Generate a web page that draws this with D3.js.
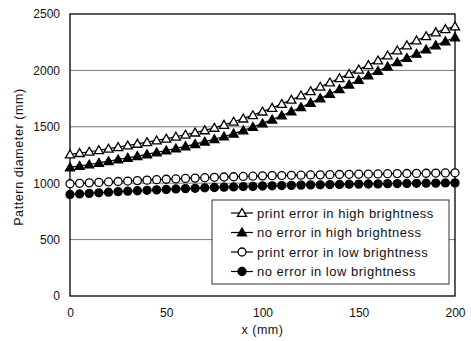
<!DOCTYPE html>
<html><head><meta charset="utf-8">
<script src="https://cdn.jsdelivr.net/npm/d3@7"></script>
<style>body{margin:0;background:#fff;}svg{display:block;font-family:"Liberation Sans",Arial,sans-serif;}</style>
</head><body><svg id="c" width="471" height="341"></svg>
<script>
const xValues = d3.range(0, 201, 5);
const printHigh = [1255,1267,1279,1292,1306,1320,1334,1349,1364,1379,1395,1412,1430,1449,1469,1491,1517,1545,1573,1603,1635,1668,1703,1740,1778,1816,1855,1893,1931,1969,2007,2047,2088,2132,2177,2222,2265,2303,2337,2366,2390];
const noErrHigh = [1140,1153,1166,1180,1195,1210,1225,1240,1256,1273,1290,1308,1327,1347,1368,1390,1414,1440,1468,1498,1530,1564,1600,1636,1673,1712,1752,1792,1833,1874,1915,1955,1995,2034,2072,2110,2148,2185,2222,2258,2293];
const printLow = [995,999,1003,1007,1011,1015,1019,1023,1027,1031,1035,1038,1042,1045,1049,1052,1055,1057,1060,1062,1065,1067,1068,1070,1071,1073,1074,1076,1077,1079,1080,1081,1082,1084,1085,1086,1087,1088,1090,1091,1092];
const noErrLow = [900,905,910,915,920,925,929,933,937,941,945,949,952,955,959,962,965,967,970,972,975,977,979,981,983,985,986,988,989,991,992,993,994,996,997,998,999,1000,1001,1002,1003];
const seriesNames = ["print error in high brightness","no error in high brightness","print error in low brightness","no error in low brightness"];
const yTicks = [0,500,1000,1500,2000,2500];
const xTicks = [0,50,100,150,200];

const svg = d3.select("#c");
const L=70,R=455,T=14,B=296;
const x = d3.scaleLinear().domain([0,200]).range([L,R]);
const y = d3.scaleLinear().domain([0,2500]).range([B,T]);

// gridlines
svg.append("g").selectAll("line").data(yTicks.filter(v=>v>0&&v<2500)).join("line")
  .attr("x1",L).attr("x2",R).attr("y1",d=>y(d)).attr("y2",d=>y(d))
  .attr("stroke","#777").attr("stroke-width",1);
// frame
svg.append("rect").attr("x",L).attr("y",T).attr("width",R-L).attr("height",B-T)
  .attr("fill","none").attr("stroke","#000").attr("stroke-width",1.3);

// axes
const yAxis = svg.append("g").attr("transform",`translate(${L},0)`)
  .call(d3.axisLeft(y).tickValues(yTicks).tickSize(0).tickPadding(10).tickFormat(d3.format("d")));
yAxis.select(".domain").remove();
const xAxis = svg.append("g").attr("transform",`translate(0,${B})`)
  .call(d3.axisBottom(x).tickValues(xTicks).tickSize(0).tickPadding(12));
xAxis.select(".domain").remove();
svg.selectAll(".tick text").attr("font-size",12).attr("fill","#111").style("font-family","Liberation Sans, Arial, sans-serif");

svg.append("text").attr("x",(L+R)/2).attr("y",334).attr("text-anchor","middle")
  .attr("font-size",12.5).attr("letter-spacing",0.5).attr("fill","#111").text("x (mm)");
svg.append("text").attr("transform",`translate(23,${(T+B)/2+2}) rotate(-90)`).attr("text-anchor","middle")
  .attr("font-size",12.5).attr("letter-spacing",0.6).attr("fill","#111").text("Pattern diameter (mm)");

const series = [
  {vals:printHigh, shape:"tri", fill:"#fff"},
  {vals:noErrHigh, shape:"tri", fill:"#000"},
  {vals:printLow, shape:"circ", fill:"#fff"},
  {vals:noErrLow, shape:"circ", fill:"#000"}
];
const line = d3.line().x(d=>x(d[0])).y(d=>y(d[1]));
const triPath = d3.symbol().type(d3.symbolTriangle).size(36);
function drawMarker(g, shape, fill){
  if(shape==="tri") g.append("path").attr("d",triPath()).attr("transform","translate(0,0.8)").attr("fill",fill).attr("stroke","#000").attr("stroke-width",1.3);
  else g.append("circle").attr("r",4).attr("fill",fill).attr("stroke","#000").attr("stroke-width",1.3);
}
series.forEach(s=>{
  const pts = xValues.map((xv,i)=>[xv,s.vals[i]]);
  svg.append("path").attr("d",line(pts)).attr("fill","none").attr("stroke","#000").attr("stroke-width",1.2);
  pts.forEach(p=>{
    const g = svg.append("g").attr("transform",`translate(${x(p[0])},${y(p[1])})`);
    drawMarker(g,s.shape,s.fill);
  });
});

// legend
const lg = svg.append("g");
lg.append("rect").attr("x",212).attr("y",200).attr("width",237).attr("height",84)
  .attr("fill","#fff").attr("stroke","#333").attr("stroke-width",1);
seriesNames.forEach((n,i)=>{
  const yy = 213 + i*19.5;
  lg.append("line").attr("x1",231).attr("x2",253).attr("y1",yy).attr("y2",yy).attr("stroke","#000").attr("stroke-width",1.2);
  const g = lg.append("g").attr("transform",`translate(242,${yy})`);
  drawMarker(g, series[i].shape, series[i].fill);
  lg.append("text").attr("x",257).attr("y",yy+4.5).attr("font-size",13).attr("letter-spacing",0.5).attr("fill","#111").text(n);
});
</script></body></html>
